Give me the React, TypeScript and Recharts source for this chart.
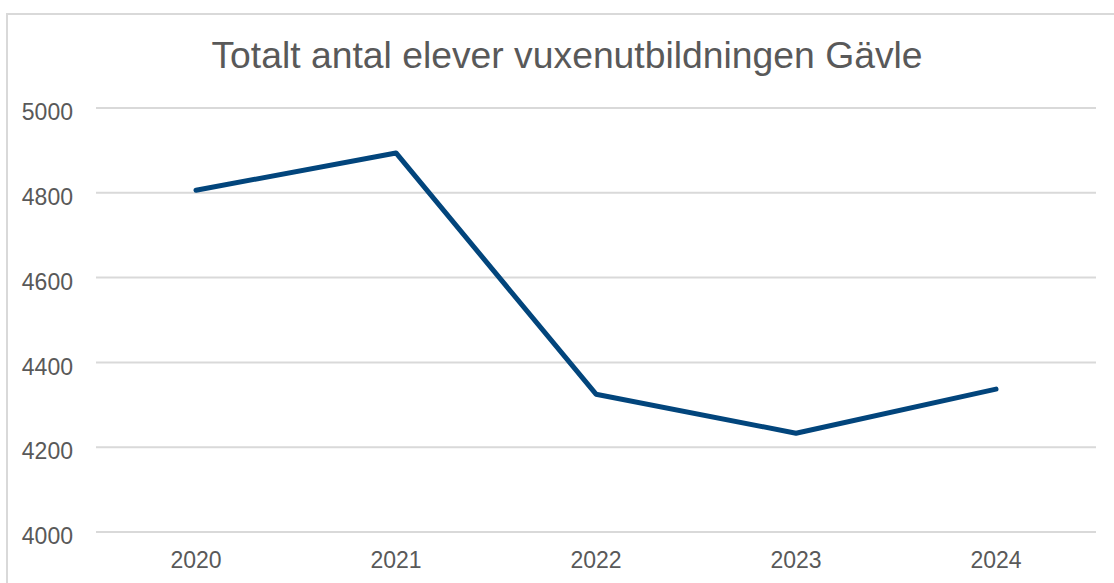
import React from 'react';
import { LineChart, Line, XAxis, YAxis, CartesianGrid } from 'recharts';

const years = ['2020', '2021', '2022', '2023', '2024'];
const students = [4806, 4894, 4325, 4233, 4337];
const yTicks = [4000, 4200, 4400, 4600, 4800, 5000];

const chartData = years.map((year, i) => ({ year, students: students[i] }));

const font = '"Liberation Sans", Arial, sans-serif';
const textColor = '#595959';
const gridColor = '#d9d9d9';

const App: React.FC = () => {
  return (
    <div style={{ position: 'absolute', left: 0, top: 0, width: 1114, height: 583, overflow: 'hidden', background: '#fff' }}>
      <div
        style={{
          position: 'absolute',
          left: 6,
          top: 13,
          width: 1130,
          height: 600,
          border: `2px solid ${gridColor}`,
          boxSizing: 'border-box',
        }}
      />
      <div
        style={{
          position: 'absolute',
          left: 0,
          top: 35,
          width: 1134,
          textAlign: 'center',
          fontFamily: font,
          fontSize: 37.3,
          color: textColor,
          lineHeight: '40px',
          whiteSpace: 'nowrap',
        }}
      >
        Totalt antal elever vuxenutbildningen Gävle
      </div>
      <div style={{ position: 'absolute', left: 0, top: 0 }}>
        <LineChart width={1114} height={583} data={chartData} margin={{ top: 108, right: 18, bottom: 0, left: 0 }}>
          <CartesianGrid vertical={false} stroke={gridColor} strokeWidth={2} />
          <XAxis
            dataKey="year"
            height={51}
            padding={{ left: 100, right: 100 }}
            axisLine={false}
            tickLine={false}
            tickSize={0}
            tickMargin={20}
            tick={{ fill: textColor, fontSize: 23, fontFamily: font }}
          />
          <YAxis
            width={96}
            domain={[4000, 5000]}
            ticks={yTicks}
            axisLine={false}
            tickLine={false}
            tickSize={0}
            tickMargin={23}
            tick={{ fill: textColor, fontSize: 23, fontFamily: font, dy: 4 }}
          />
          <Line
            type="linear"
            dataKey="students"
            stroke="#02457c"
            strokeWidth={5}
            strokeLinecap="round"
            strokeLinejoin="round"
            dot={false}
            activeDot={false}
            isAnimationActive={false}
          />
        </LineChart>
      </div>
    </div>
  );
};

export default App;
